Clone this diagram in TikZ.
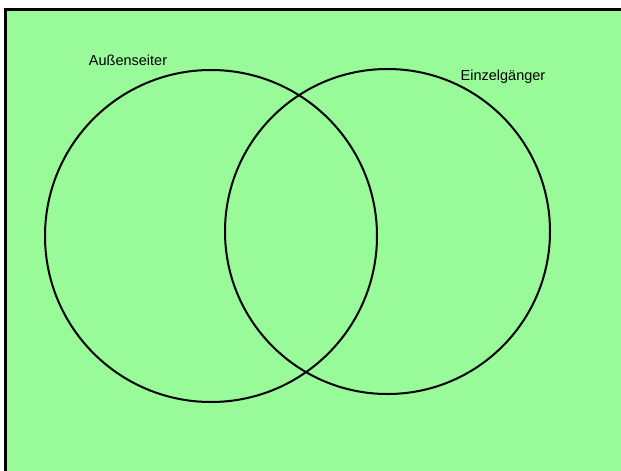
\documentclass[tikz,border=0pt]{standalone}
\usepackage{fontspec}
\setmainfont{Liberation Sans}
\definecolor{bggreen}{RGB}{153,250,153}
\begin{document}
\begin{tikzpicture}[x=1pt,y=-1pt,
  setcircle/.style={draw=black,line width=2pt},
  setlabel/.style={font=\fontsize{14.5}{16}\selectfont,inner sep=0pt}]
\useasboundingbox (0,0) rectangle (621,471);
\fill[white] (0,0) rectangle (621,471);
\fill[bggreen] (5.5,9.5) rectangle (621,471);
\draw[line width=3pt] (5.5,471) -- (5.5,9.5) -- (621,9.5);
\node[setcircle,circle,minimum size=332pt,inner sep=0pt] (A) at (211,236) {};
\node[setcircle,circle,minimum size=325pt,inner sep=0pt] (B) at (387.5,231.5) {};
\node[setlabel] (la) at (128,60) {Außenseiter};
\node[setlabel] (lb) at (503,77) {Einzelgänger};
\end{tikzpicture}
\end{document}
